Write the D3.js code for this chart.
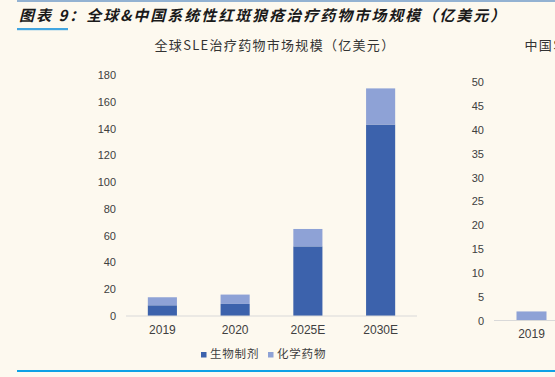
<!DOCTYPE html>
<html>
<head>
<meta charset="utf-8">
<script src="https://cdn.jsdelivr.net/npm/d3@7"></script>
<style>
  html, body { margin: 0; padding: 0; background: #fdf9ef; }
  svg { display: block; font-family: "Liberation Sans", Arial, sans-serif; }
  .cjk { font-family: "Noto Sans CJK SC", sans-serif; }
</style>
</head>
<body>
<svg id="chart" width="555" height="377"></svg>
<script>
// categories and series (亿美元)
const years = ["2019", "2020", "2025E", "2030E"];
const seriesNames = ["生物制剂", "化学药物"];
const globalBio = [8, 9, 52, 143];
const globalChem = [6, 7, 13, 27];
// China panel is cut off at the right edge; only 2019 is visible
const chinaBio = [0, 0.3, 8, 30];
const chinaChem = [1.9, 2, 4, 8];
const globalTicks = [0, 20, 40, 60, 80, 100, 120, 140, 160, 180];
const chinaTicks = [0, 5, 10, 15, 20, 25, 30, 35, 40, 45, 50];

const colors = ["#3c62ac", "#8ea2d6"];
const svg = d3.select("#chart");

// header
svg.append("line").attr("x1", 17).attr("x2", 555).attr("y1", 1).attr("y2", 1)
    .attr("stroke", "#2a6db5").attr("stroke-width", 1.2);
svg.append("text").attr("class", "cjk")
    .attr("x", 19).attr("y", 21)
    .attr("font-size", 15).attr("font-weight", "bold").attr("font-style", "italic")
    .attr("letter-spacing", 2).attr("fill", "#1a1a1a")
    .text("图表 9：全球&中国系统性红斑狼疮治疗药物市场规模（亿美元）");
svg.append("rect").attr("x", 17).attr("y", 28).attr("width", 51).attr("height", 2.2)
    .attr("fill", "#41a5e0");

// footer line
svg.append("rect").attr("x", 17).attr("y", 370).attr("width", 538).attr("height", 2)
    .attr("fill", "#0ea2e6");

function panel(cfg) {
    const rows = years.map((y, i) => ({year: y, bio: cfg.bio[i], chem: cfg.chem[i]}));
    const stack = d3.stack().keys(["bio", "chem"])(rows);

    const x = d3.scaleBand()
        .domain(years)
        .range(cfg.xRange)
        .paddingInner(0.6)
        .paddingOuter(0.3);
    const y = d3.scaleLinear()
        .domain([0, d3.max(cfg.ticks)])
        .range(cfg.yRange);

    const g = svg.append("g");

    g.append("text").attr("class", "cjk")
        .attr("x", cfg.titleX).attr("y", 50)
        .attr("text-anchor", "middle")
        .attr("font-size", 13).attr("letter-spacing", 1.3).attr("fill", "#333")
        .text(cfg.title);

    g.selectAll("g.series")
        .data(stack)
        .join("g")
        .attr("class", "series")
        .attr("fill", (d, i) => colors[i])
        .selectAll("rect")
        .data(d => d)
        .join("rect")
        .attr("x", d => x(d.data.year))
        .attr("y", d => y(d[1]))
        .attr("width", x.bandwidth())
        .attr("height", d => y(d[0]) - y(d[1]));

    // baseline
    g.append("line")
        .attr("x1", cfg.xRange[0]).attr("x2", cfg.xRange[1])
        .attr("y1", y(0)).attr("y2", y(0))
        .attr("stroke", "#d9d9d9").attr("stroke-width", 1);

    // vertical axis labels
    const yAxis = g.append("g")
        .attr("transform", `translate(${cfg.labelX},0)`)
        .call(d3.axisLeft(y).tickValues(cfg.ticks).tickSize(0).tickPadding(0));
    yAxis.select(".domain").remove();
    yAxis.selectAll("text").attr("font-size", 11).attr("fill", "#404040")
        .attr("font-family", "'Liberation Sans', Arial, sans-serif");

    // horizontal axis labels
    const xAxis = g.append("g")
        .attr("transform", `translate(0,${y(0)})`)
        .call(d3.axisBottom(x).tickSize(0).tickPadding(9));
    xAxis.select(".domain").remove();
    xAxis.selectAll("text").attr("font-size", 12).attr("fill", "#404040")
        .attr("font-family", "'Liberation Sans', Arial, sans-serif");
}

panel({
    title: "全球SLE治疗药物市场规模（亿美元）",
    titleX: 275,
    bio: globalBio, chem: globalChem, ticks: globalTicks,
    xRange: [126, 417], yRange: [316, 75], labelX: 116
});
panel({
    title: "中国SLE治疗药物市场规模（亿美元）",
    titleX: 645,
    bio: chinaBio, chem: chinaChem, ticks: chinaTicks,
    xRange: [494, 794], yRange: [320.5, 82.3], labelX: 484
});

// legend
const legend = svg.append("g").attr("transform", "translate(201,355)");
legend.selectAll("g")
    .data(seriesNames)
    .join(enter => {
        const item = enter.append("g")
            .attr("transform", (d, i) => `translate(${i * 67},0)`);
        item.append("rect")
            .attr("x", 0).attr("y", -3).attr("width", 5.5).attr("height", 5.5)
            .attr("fill", (d, i) => colors[i]);
        item.append("text").attr("class", "cjk")
            .attr("x", 9).attr("y", 0)
            .attr("dominant-baseline", "middle")
            .attr("font-size", 11.5).attr("letter-spacing", 0.8).attr("fill", "#404040")
            .text(d => d);
        return item;
    });
</script>
</body>
</html>
